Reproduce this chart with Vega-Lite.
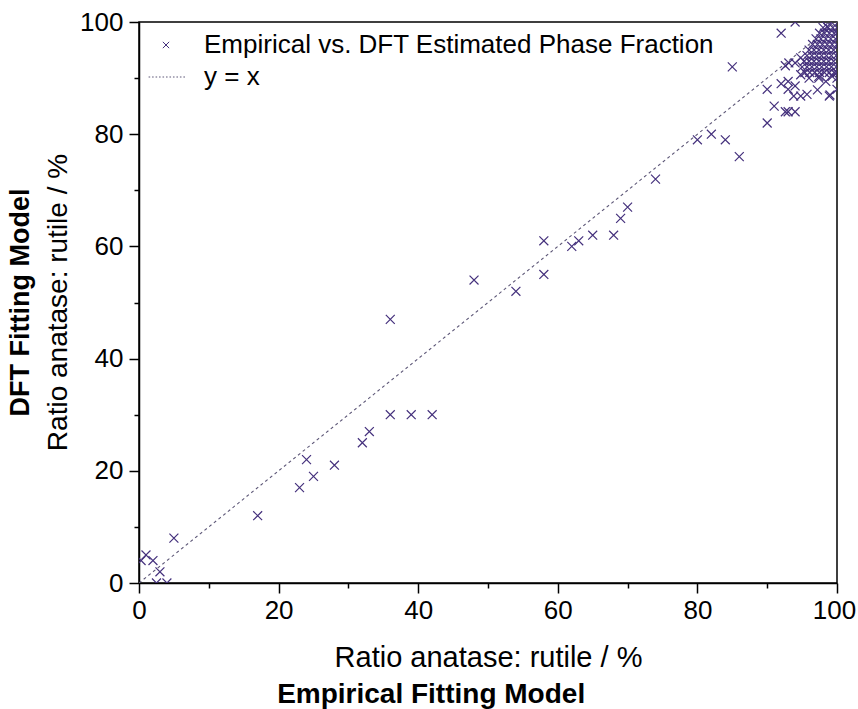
{
  "$schema": "https://vega.github.io/schema/vega-lite/v6.json",
  "background": "white",
  "padding": {"left": 5, "top": 8, "right": 18, "bottom": 1},
  "config": {
    "font": "Liberation Sans",
    "view": {"stroke": "black", "strokeWidth": 1.5},
    "axis": {"labelFont": "Liberation Sans", "titleFont": "Liberation Sans", "labelColor": "black", "titleColor": "black", "domainColor": "black", "tickColor": "black", "domainWidth": 1.5, "tickWidth": 1.5, "grid": false}
  },
  "datasets": {
    "pts": [
      {"x": 1, "y": 5}, {"x": 0.3, "y": 4}, {"x": 2, "y": 4}, {"x": 3, "y": 2}, {"x": 2.5, "y": 0}, {"x": 4, "y": 0}, {"x": 5, "y": 8},
      {"x": 17, "y": 12}, {"x": 23, "y": 17}, {"x": 24, "y": 22}, {"x": 25, "y": 19}, {"x": 28, "y": 21}, {"x": 32, "y": 25}, {"x": 33, "y": 27},
      {"x": 36, "y": 30}, {"x": 39, "y": 30}, {"x": 42, "y": 30}, {"x": 36, "y": 47},
      {"x": 48, "y": 54}, {"x": 54, "y": 52}, {"x": 58, "y": 55}, {"x": 58, "y": 61}, {"x": 62, "y": 60}, {"x": 63, "y": 61}, {"x": 65, "y": 62},
      {"x": 68, "y": 62}, {"x": 69, "y": 65}, {"x": 70, "y": 67}, {"x": 74, "y": 72},
      {"x": 80, "y": 79}, {"x": 82, "y": 80}, {"x": 84, "y": 79}, {"x": 86, "y": 76}, {"x": 85, "y": 92},
      {"x": 90, "y": 88}, {"x": 90, "y": 82}, {"x": 91, "y": 85}, {"x": 92, "y": 89}, {"x": 92.6, "y": 84}, {"x": 92, "y": 98}, {"x": 94, "y": 100},
      {"x": 93, "y": 84}, {"x": 94, "y": 84}, {"x": 93, "y": 89.4}, {"x": 93, "y": 88}, {"x": 94, "y": 88.6}, {"x": 93.8, "y": 86.8}, {"x": 94.8, "y": 86.8},
      {"x": 95.7, "y": 87.1}, {"x": 97.2, "y": 87.9}, {"x": 98.9, "y": 86.8}, {"x": 98.4, "y": 89.4}, {"x": 99.3, "y": 90.3}, {"x": 97.4, "y": 90.3},
      {"x": 96, "y": 90}, {"x": 94.8, "y": 90.6}, {"x": 93.1, "y": 92.7}, {"x": 94, "y": 92.7}, {"x": 94.8, "y": 93.6}, {"x": 92.6, "y": 92.2}, {"x": 98.6, "y": 99.2},
      {"x": 100, "y": 88}, {"x": 100, "y": 91}, {"x": 99, "y": 87},
      {"x": 98, "y": 99}, {"x": 98.7, "y": 99}, {"x": 99.4, "y": 99}, {"x": 100, "y": 99},
      {"x": 97.5, "y": 98}, {"x": 98.2, "y": 98}, {"x": 98.9, "y": 98}, {"x": 99.6, "y": 98}, {"x": 100, "y": 98},
      {"x": 97, "y": 97}, {"x": 97.7, "y": 97}, {"x": 98.4, "y": 97}, {"x": 99.1, "y": 97}, {"x": 99.8, "y": 97},
      {"x": 96.5, "y": 96}, {"x": 97.2, "y": 96}, {"x": 97.9, "y": 96}, {"x": 98.6, "y": 96}, {"x": 99.3, "y": 96}, {"x": 100, "y": 96},
      {"x": 96, "y": 95}, {"x": 96.7, "y": 95}, {"x": 97.4, "y": 95}, {"x": 98.1, "y": 95}, {"x": 98.8, "y": 95}, {"x": 99.5, "y": 95},
      {"x": 95.7, "y": 94}, {"x": 96.4, "y": 94}, {"x": 97.1, "y": 94}, {"x": 97.8, "y": 94}, {"x": 98.5, "y": 94}, {"x": 99.2, "y": 94}, {"x": 99.9, "y": 94},
      {"x": 95.3, "y": 93}, {"x": 96, "y": 93}, {"x": 96.7, "y": 93}, {"x": 97.4, "y": 93}, {"x": 98.1, "y": 93}, {"x": 98.8, "y": 93}, {"x": 99.5, "y": 93},
      {"x": 95, "y": 92}, {"x": 95.7, "y": 92}, {"x": 96.4, "y": 92}, {"x": 97.1, "y": 92}, {"x": 97.8, "y": 92}, {"x": 98.5, "y": 92}, {"x": 99.2, "y": 92}, {"x": 99.9, "y": 92},
      {"x": 95.4, "y": 91}, {"x": 96.1, "y": 91}, {"x": 96.8, "y": 91}, {"x": 97.5, "y": 91}, {"x": 98.2, "y": 91}, {"x": 98.9, "y": 91}, {"x": 99.6, "y": 91},
      {"x": 97.4, "y": 90}, {"x": 100, "y": 90}
    ],
    "line": [{"x": 0, "y": 0}, {"x": 100, "y": 100}]
  },
  "title": {"text": "Empirical Fitting Model", "orient": "bottom", "fontSize": 28, "fontWeight": "bold", "color": "black", "font": "Liberation Sans", "anchor": "middle", "offset": 8},
  "vconcat": [
    {
      "width": 698,
      "height": 561,
      "title": {"text": "DFT Fitting Model", "subtitle": "Ratio anatase: rutile / %", "orient": "left", "anchor": "middle", "fontSize": 27, "fontWeight": "bold", "color": "black", "font": "Liberation Sans", "subtitleFont": "Liberation Sans", "subtitleFontSize": 28, "subtitleFontWeight": "normal", "subtitleColor": "black", "subtitlePadding": 10, "offset": 6},
      "layer": [
        {
          "data": {"name": "line"},
          "transform": [{"calculate": "'y = x'", "as": "series"}],
          "mark": {"type": "line", "strokeDash": [3, 3], "strokeWidth": 1.1, "clip": true},
          "encoding": {
            "x": {"field": "x", "type": "quantitative"},
            "y": {"field": "y", "type": "quantitative"},
            "color": {"field": "series", "type": "nominal"}
          }
        },
        {
          "data": {"name": "pts"},
          "transform": [{"calculate": "'Empirical vs. DFT Estimated Phase Fraction'", "as": "series"}],
          "mark": {"type": "point", "filled": false, "strokeWidth": 1.2, "size": 80, "opacity": 1, "clip": true},
          "encoding": {
            "x": {"field": "x", "type": "quantitative", "scale": {"domain": [0, 100], "nice": false},
              "axis": {"title": "Ratio anatase: rutile / %", "titleFontSize": 29, "titleFontWeight": "normal", "titlePadding": 20, "labelFontSize": 26, "labelPadding": 4, "labelOffset": {"condition": {"test": "datum.value === 100", "value": -3}, "value": 0}, "tickSize": {"condition": {"test": "datum.value % 20 === 0", "value": 10}, "value": 5}, "values": [0, 10, 20, 30, 40, 50, 60, 70, 80, 90, 100], "labelExpr": "datum.value % 20 == 0 ? datum.label : ''", "labelFlush": false}},
            "y": {"field": "y", "type": "quantitative", "scale": {"domain": [0, 100], "nice": false},
              "axis": {"title": null, "labelFontSize": 26, "labelPadding": 6, "tickSize": {"condition": {"test": "datum.value % 20 === 0", "value": 10}, "value": 5}, "values": [0, 10, 20, 30, 40, 50, 60, 70, 80, 90, 100], "labelExpr": "datum.value % 20 == 0 ? datum.label : ''", "labelFlush": false}},
            "color": {"field": "series", "type": "nominal",
              "scale": {"domain": ["Empirical vs. DFT Estimated Phase Fraction", "y = x"], "range": ["#44307c", "#5e5878"]},
              "legend": {"title": null, "orient": "none", "legendX": 14, "legendY": 10, "labelFontSize": 26, "labelLimit": 700, "labelColor": "black", "labelFont": "Liberation Sans", "symbolSize": 40, "symbolStrokeWidth": 1, "labelOffset": 25, "rowPadding": 6}},
            "shape": {"field": "series", "type": "nominal",
              "scale": {"domain": ["Empirical vs. DFT Estimated Phase Fraction", "y = x"], "range": ["M-1,-1L1,1M1,-1L-1,1", "M-5.5,0L-5,0M-4.4,0L-3.9,0M-3.3,0L-2.8,0M-2.2,0L-1.7,0M-1.1,0L-0.6,0M0,0L0.5,0M1.1,0L1.6,0M2.2,0L2.7,0M3.3,0L3.8,0M4.4,0L4.9,0M5.5,0L6,0"]},
              "legend": {"title": null, "orient": "none", "legendX": 14, "legendY": 10}}
          }
        }
      ]
    }
  ]
}
